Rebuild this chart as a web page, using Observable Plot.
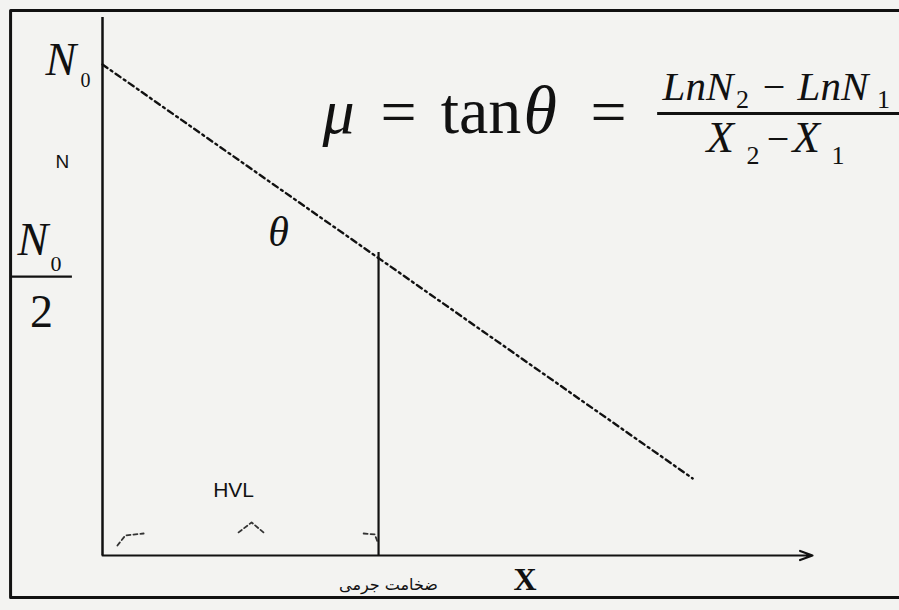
<!DOCTYPE html>
<html>
<head>
<meta charset="utf-8">
<script src="https://cdn.jsdelivr.net/npm/d3@7"></script>
<script src="https://cdn.jsdelivr.net/npm/@observablehq/plot@0.6"></script>
<style>
  html, body { margin: 0; padding: 0; background: #f3f3f1; }
  #chart svg { display: block; }
</style>
</head>
<body>
<div id="chart"></div>
<script>
// Attenuation line: x = thickness in HVL units, y = log2(N / N0)
const thickness = [0, 2.138];
const log2N = [0, -2.202];
const hvl = 1;          // half value layer
const halfLevel = -1;   // log2(1/2)
const xDomain = [0, 2.572];
const yDomain = [-2.612, 0.25];

// Scan border (left, top, bottom)
const borderX = [2.9, -0.333, -0.333, 2.9];
const borderY = [0.287, 0.287, -2.835, -2.835];

// HVL brace fragments
const braceX = [0.054, 0.083, 0.149, 0.493, 0.540, 0.583, 0.946, 0.986, 0.996];
const braceY = [-2.559, -2.505, -2.495, -2.489, -2.436, -2.489, -2.495, -2.500, -2.537];
const braceGroup = ["a", "a", "a", "b", "b", "b", "c", "c", "c"];

// Fraction bars
const fractionBars = [
  {x1: -0.333, x2: -0.109, y: -1.128, w: 2.2},
  {x1: 2.011, x2: 2.9, y: -0.261, w: 3}
];

const SERIF = "Liberation Serif, Times New Roman, serif";
const SANS = "Liberation Sans, Arial, sans-serif";
const ARABIC = "DejaVu Sans, Noto Sans, sans-serif";

// Text labels
const labelText = ["N", "0", "N", "N", "0", "2", "θ", "HVL", "X", "ضخامت جرمی",
  "μ", "=", "tan", "θ", "=",
  "LnN", "2", "−", "LnN", "1",
  "X", "2", "−", "X", "1"];
const labelX = [-0.2065, -0.0797, -0.145, -0.308, -0.188, -0.221, 0.638, 0.475, 1.489, 1.036,
  0.797, 1.007, 1.225, 1.525, 1.768,
  2.029, 2.295, 2.392, 2.518, 2.806,
  2.188, 2.333, 2.406, 2.500, 2.641];
const labelY = [-0.0585, -0.122, -0.548, -1.016, -1.096, -1.399, -0.963, -2.303, -2.798, -2.798,
  -0.367, -0.367, -0.367, -0.367, -0.367,
  -0.1915, -0.229, -0.1915, -0.1915, -0.229,
  -0.468, -0.527, -0.468, -0.468, -0.527];
const labelSize = [46, 20, 19, 46, 22, 46, 42, 21, 32, 16,
  64, 64, 66, 68, 64,
  41, 26, 40, 41, 26,
  45, 26, 40, 45, 26];
const labelStyle = ["italic", "normal", "normal", "italic", "normal", "normal", "italic", "normal", "normal", "normal",
  "italic", "normal", "normal", "italic", "normal",
  "italic", "normal", "normal", "italic", "normal",
  "italic", "normal", "normal", "italic", "normal"];
const labelWeight = ["normal", "normal", "normal", "normal", "normal", "normal", "normal", "normal", "bold", "normal",
  "normal", "normal", "normal", "normal", "normal",
  "normal", "normal", "normal", "normal", "normal",
  "normal", "normal", "normal", "normal", "normal"];
const labelFamily = ["serif", "serif", "sans", "serif", "serif", "serif", "serif", "sans", "serif", "arabic",
  "serif", "serif", "serif", "serif", "serif",
  "serif", "serif", "serif", "serif", "serif",
  "serif", "serif", "serif", "serif", "serif"];
const labelAnchor = ["start", "start", "middle", "start", "start", "middle", "middle", "middle", "start", "middle",
  "start", "start", "start", "start", "start",
  "start", "start", "start", "start", "start",
  "start", "start", "start", "start", "start"];

const famMap = {serif: SERIF, sans: SANS, arabic: ARABIC};

const lineData = thickness.map((x, i) => ({x, y: log2N[i]}));
const borderData = borderX.map((x, i) => ({x, y: borderY[i]}));
const braceData = braceX.map((x, i) => ({x, y: braceY[i], g: braceGroup[i]}));
const labels = labelText.map((t, i) => ({
  t, x: labelX[i], y: labelY[i], size: labelSize[i], style: labelStyle[i],
  weight: labelWeight[i], family: famMap[labelFamily[i]], anchor: labelAnchor[i]
}));

const textMarks = labels.map(l => Plot.text([l], {
  x: "x", y: "y", text: "t",
  fontSize: l.size, fontStyle: l.style, fontWeight: l.weight,
  fontFamily: l.family, textAnchor: l.anchor, lineAnchor: "bottom",
  fill: "#111"
}));

const chart = Plot.plot({
  width: 899,
  height: 610,
  marginLeft: 102,
  marginRight: 87,
  marginTop: 17,
  marginBottom: 55,
  x: {domain: xDomain, axis: null},
  y: {domain: yDomain, axis: null},
  style: {background: "#f3f3f1", overflow: "visible"},
  marks: [
    Plot.line(borderData, {x: "x", y: "y", stroke: "#111", strokeWidth: 3}),
    Plot.ruleX([0], {y1: yDomain[0], y2: yDomain[1], stroke: "#111", strokeWidth: 2.5}),
    Plot.arrow([{x1: 0, x2: xDomain[1], y: yDomain[0]}], {
      x1: "x1", x2: "x2", y1: "y", y2: "y",
      stroke: "#111", strokeWidth: 2.2, headLength: 9, headAngle: 40
    }),
    Plot.ruleX([hvl], {y1: yDomain[0], y2: halfLevel, stroke: "#111", strokeWidth: 2.2}),
    Plot.line(lineData, {
      x: "x", y: "y", stroke: "#111", strokeWidth: 2.4,
      strokeDasharray: "6,4,2,4"
    }),
    Plot.line(braceData, {
      x: "x", y: "y", z: "g", stroke: "#333", strokeWidth: 1.8,
      strokeDasharray: "4,3"
    }),
    Plot.ruleY(fractionBars, {x1: "x1", x2: "x2", y: "y", strokeWidth: d => d.w, stroke: "#111"}),
    ...textMarks
  ]
});

document.getElementById("chart").appendChild(chart);
</script>
</body>
</html>
